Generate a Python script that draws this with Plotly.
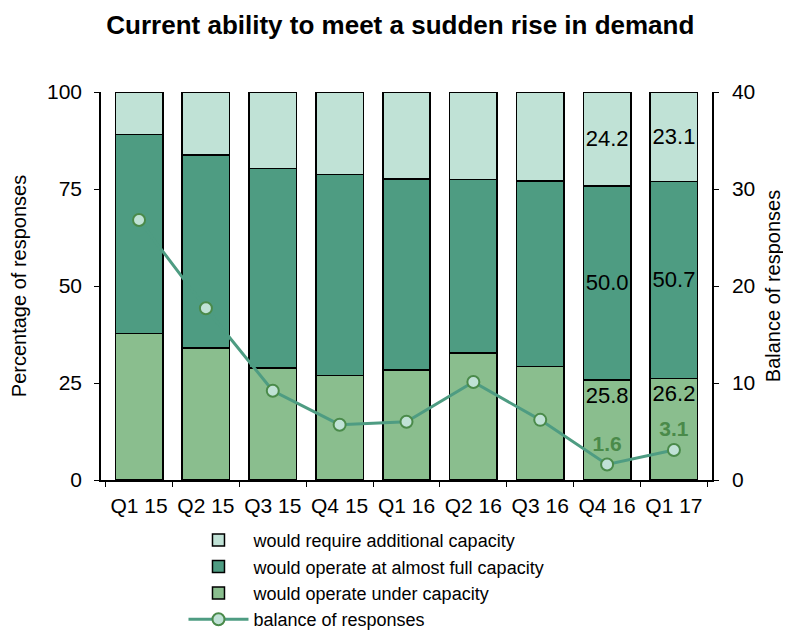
import plotly.graph_objects as go

quarters = ['Q1 15', 'Q2 15', 'Q3 15', 'Q4 15', 'Q1 16', 'Q2 16', 'Q3 16', 'Q4 16', 'Q1 17']
under_capacity = [37.7, 34.0, 28.9, 26.9, 28.4, 32.7, 29.2, 25.8, 26.2]
almost_full = [51.4, 49.7, 51.4, 51.9, 49.2, 44.7, 47.8, 50.0, 50.7]
additional = [10.9, 16.3, 19.7, 21.2, 22.4, 22.6, 23.0, 24.2, 23.1]
balance = [26.8, 17.7, 9.2, 5.7, 6.0, 10.1, 6.2, 1.6, 3.1]
labelled = ['Q4 16', 'Q1 17']

FONT = 'Liberation Sans, Arial, sans-serif'
LIGHT = '#C0E2D6'
MID = '#4E9C82'
LOW = '#8ABE8E'
DARK_GREEN = '#4A8A4A'


def labels(values):
    return [f'{v:.1f}' if q in labelled else '' for q, v in zip(quarters, values)]


fig = go.Figure()

bar_line = dict(color='black', width=1.5)
label_font = dict(color='black', size=22)
fig.add_trace(go.Bar(x=quarters, y=under_capacity, name='would operate under capacity',
                     marker=dict(color=LOW, line=bar_line), legendrank=3,
                     text=labels(under_capacity), textposition='inside', insidetextanchor='end',
                     textfont=label_font, textangle=0))
fig.add_trace(go.Bar(x=quarters, y=almost_full, name='would operate at almost full capacity',
                     marker=dict(color=MID, line=bar_line), legendrank=2,
                     text=labels(almost_full), textposition='inside', insidetextanchor='middle',
                     textfont=label_font, textangle=0))
fig.add_trace(go.Bar(x=quarters, y=additional, name='would require additional capacity',
                     marker=dict(color=LIGHT, line=bar_line), legendrank=1,
                     text=labels(additional), textposition='inside', insidetextanchor='middle',
                     textfont=label_font, textangle=0))

fig.add_trace(go.Scatter(x=quarters, y=balance, yaxis='y2', name='balance of responses',
                         mode='lines+markers+text', legendrank=4,
                         line=dict(color=MID, width=3),
                         marker=dict(size=12, color=LIGHT, line=dict(color=DARK_GREEN, width=2)),
                         text=labels(balance), textposition='top center',
                         textfont=dict(color=DARK_GREEN, size=21, family=FONT, weight='bold')))

# the page body adds an 8px offset, so margins are shifted to compensate
fig.update_layout(
    width=791, height=635,
    barmode='stack', bargap=0.29,
    plot_bgcolor='white', paper_bgcolor='white',
    font=dict(family=FONT, size=21, color='black'),
    uniformtext=dict(minsize=22, mode='show'),
    margin=dict(l=93, r=87, t=84, b=163, autoexpand=False),
    title=dict(text='<b>Current ability to meet a sudden rise in demand</b>',
               x=0.496, xanchor='center', y=0.973, yanchor='middle',
               font=dict(size=26, family=FONT)),
    xaxis=dict(showline=True, linecolor='black', linewidth=1.5, ticks='outside',
               tickson='boundaries', ticklen=5, tickcolor='black', tickfont=dict(size=21),
               ticklabelstandoff=6),
    yaxis=dict(range=[0, 100], tickvals=[0, 25, 50, 75, 100], showline=True, linecolor='black',
               linewidth=1.5, ticks='outside', ticklen=5, tickcolor='black', showgrid=False,
               zeroline=False, title=dict(text='Percentage of responses', standoff=15,
                                          font=dict(size=20)),
               tickfont=dict(size=21), ticklabelstandoff=8),
    yaxis2=dict(range=[0, 40], tickvals=[0, 10, 20, 30, 40], overlaying='y', side='right',
                showline=True, linecolor='black', linewidth=1.5, ticks='outside', ticklen=5,
                tickcolor='black', showgrid=False, zeroline=False,
                title=dict(text='Balance of responses', standoff=12, font=dict(size=20)),
                tickfont=dict(size=21), ticklabelstandoff=9),
    legend=dict(orientation='v', x=0.135, xanchor='left', y=-0.108, yanchor='top',
                traceorder='normal', font=dict(size=18), itemwidth=60, tracegroupgap=0),
    showlegend=True,
)

fig.write_html('out.html')
